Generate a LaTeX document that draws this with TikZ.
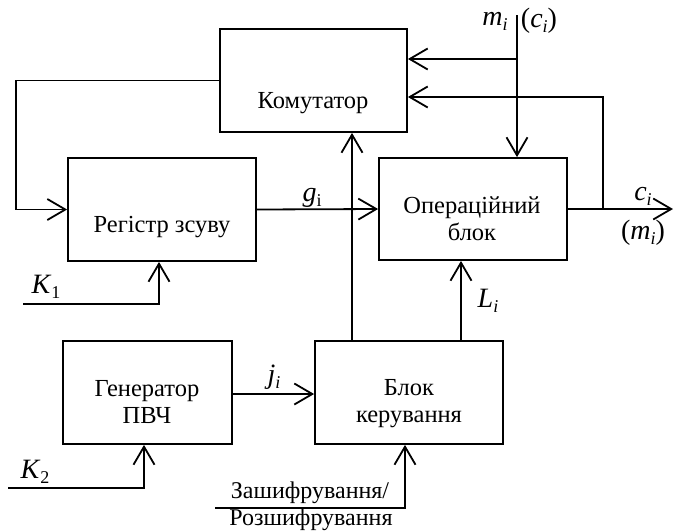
\documentclass[tikz,border=0pt]{standalone}
\usepackage{fontspec}
\setmainfont{Liberation Serif}
\usetikzlibrary{arrows.meta}
\newcommand\dn[1]{\raisebox{-0.4ex}{\fontsize{18}{18}\selectfont #1}}
\begin{document}
\begin{tikzpicture}[x=1pt,y=-1pt,line width=1.8pt,
  box/.style={draw,rectangle,inner sep=0pt},
  txt/.style={font=\fontsize{24.5}{27}\selectfont,align=center,inner sep=0pt},
  lbl/.style={font=\fontsize{28}{30}\selectfont,inner sep=0pt},
  plain/.style={font=\fontsize{24}{27}\selectfont,inner sep=0pt},
  ar/.style={-{Straight Barb[length=18pt,width=21pt]}}]
\useasboundingbox (0,0) rectangle (674,531);
% boxes
\node[box,minimum width=187pt,minimum height=103pt] (kom) at (313.5,80.5) {};
\node[box,minimum width=188pt,minimum height=103pt] (reg) at (162,209.5) {};
\node[box,minimum width=188pt,minimum height=102pt] (op) at (473,209) {};
\node[box,minimum width=169pt,minimum height=103pt] (gen) at (147.5,392.5) {};
\node[box,minimum width=188pt,minimum height=103pt] (bk) at (409,392.5) {};
% box texts
\node[txt,anchor=base] (komt) at (313,108) {Комутатор};
\node[txt,anchor=base] (regt) at (162,232) {Регістр зсуву};
\node[txt,anchor=base] (opt) at (472,240) {Операційний\\блок};
\node[txt,anchor=base] (gent) at (147,423) {Генератор\\ПВЧ};
\node[txt,anchor=base] (bkt) at (409,422) {Блок\\керування};
% coordinates
\coordinate (xa) at (352,0);
\coordinate (xl) at (461,0);
\coordinate (xk1) at (159,0);
\coordinate (xk2) at (144,0);
\coordinate (xz) at (405,0);
\coordinate (fb) at (16,0);
\coordinate (mtop) at (517,15);
\coordinate (br1) at (517,59);
\coordinate (br2) at (603,209);
\coordinate (y97) at (0,97);
\coordinate (out) at (673,209);
\coordinate (k1) at (23,304);
\coordinate (k2) at (8,488);
\coordinate (zs) at (215,508);
% connectors
\draw[ar] (kom.west) -- (kom.west -| fb) |- (reg.west);
\draw[ar] (reg.east) -- (op.west);
\draw[ar] (bk.north -| xa) -- (kom.south -| xa);
\draw[ar] (bk.north -| xl) -- (op.south -| xl);
\draw[ar] (gen.east |- 0,394) -- (bk.west |- 0,394);
\draw[ar] (k1) -| (reg.south -| xk1);
\draw[ar] (k2) -| (gen.south -| xk2);
\draw[ar] (zs) -| (bk.south -| xz);
\draw[ar] (mtop) -- (op.north -| mtop);
\draw[ar] (br1) -- (kom.east |- br1);
\draw[ar] (op.east) -- (out);
\draw[ar] (br2) |- (kom.east |- y97);
% labels
\node[lbl] (lm) at (495,21) {\textit{m}\dn{\textit{i}}};
\node[lbl] (lc) at (539,21) {(\textit{c}\dn{\textit{i}})};
\node[lbl] (lg) at (312,198) {\textit{g}\dn{i}};
\node[lbl] (lci) at (643,196) {\textit{c}\dn{\textit{i}}};
\node[lbl] (lmi) at (643,233) {(\textit{m}\dn{\textit{i}})};
\node[lbl] (lL) at (488,301) {\textit{L}\dn{\textit{i}}};
\node[lbl] (lj) at (274,377) {\textit{j}\dn{\textit{i}}};
\node[lbl] (lk1) at (46,287) {\textit{K}\dn{1}};
\node[lbl] (lk2) at (35,472) {\textit{K}\dn{2}};
\node[plain] (lz1) at (310,493) {Зашифрування/};
\node[plain] (lz2) at (311,520) {Розшифрування};
\end{tikzpicture}
\end{document}
